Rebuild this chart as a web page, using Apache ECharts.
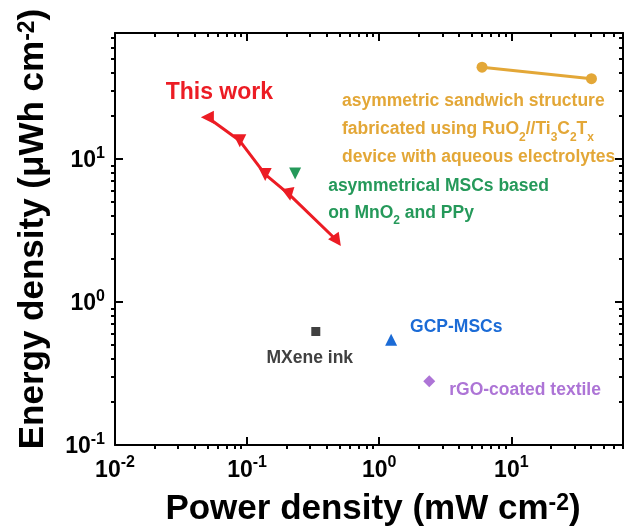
<!DOCTYPE html>
<html><head><meta charset="utf-8">
<script src="https://cdn.jsdelivr.net/npm/echarts@6/dist/echarts.min.js"></script>
<style>html,body{margin:0;padding:0;background:#fff}#c{width:627px;height:528px}</style>
</head><body><div id="c"></div>
<script>
// ---- data ----
const thisWorkX = [0.05, 0.088, 0.137, 0.208, 0.48];
const thisWorkY = [19.6, 13.4, 7.8, 5.65, 2.68];
const rutiX = [6.0, 40.4];
const rutiY = [43.8, 36.4];
const mnoX = [0.231];
const mnoY = [7.9];
const mxeneX = [0.331];
const mxeneY = [0.622];
const gcpX = [1.23];
const gcpY = [0.544];
const rgoX = [2.39];
const rgoY = [0.279];
const xMajor = [0.01, 0.1, 1, 10];
const yMajor = [0.1, 1, 10];
const minorMult = [2, 3, 4, 5, 6, 7, 8, 9];
const xDecades = [0.01, 0.1, 1, 10];
const yDecades = [0.1, 1, 10];
const xMin = 0.01, xMax = 70, yMin = 0.1, yMax = 76;

// ---- styles ----
const FONT = 'Liberation Sans, Arial, Helvetica, sans-serif';
const LBL = 17.5;
const redRot = [90, 180, 180, 190, 215];
const C = { red: '#ec1c24', orange: '#e3a737', green: '#25995a', gray: '#404040', blue: '#1b6bd6', purple: '#ad74d6' };

const xMinor = [], yMinor = [];
xDecades.forEach(d => minorMult.forEach(m => { const v = +(d * m).toPrecision(6); if (v <= xMax) xMinor.push(v); }));
yDecades.forEach(d => minorMult.forEach(m => { const v = +(d * m).toPrecision(6); if (v <= yMax) yMinor.push(v); }));

function pow10Label(v) {
  const e = Math.round(Math.log10(v));
  return '{b|10}{s|' + e + '}';
}
const tickRich = {
  b: { fontSize: 23, fontWeight: 'bold', fontFamily: FONT, color: '#000', verticalAlign: 'bottom', lineHeight: 27 },
  s: { fontSize: 16, fontWeight: 'bold', fontFamily: FONT, color: '#000', verticalAlign: 'top', lineHeight: 16 }
};
const lineBlack = { show: true, lineStyle: { color: '#000', width: 2 } };

function axisSet(pos, majors, minors, min, max, majorInside, minorInside, showLabel) {
  const base = { type: 'log', logBase: 10, min: min, max: max, position: pos, splitLine: { show: false }, minorTick: { show: false } };
  const major = Object.assign({}, base, {
    axisLine: lineBlack,
    axisTick: { show: true, customValues: majors, inside: majorInside, length: 8, lineStyle: { color: '#000', width: 2 } },
    axisLabel: showLabel ? { show: true, customValues: majors, formatter: pow10Label, rich: tickRich, margin: 10 } : { show: false }
  });
  const minor = Object.assign({}, base, {
    axisLine: { show: false },
    axisTick: { show: true, customValues: minors, inside: minorInside, length: 4, lineStyle: { color: '#000', width: 2 } },
    axisLabel: { show: false }
  });
  return [major, minor];
}

const titleRich = { s: { fontSize: 23, fontWeight: 'bold', fontFamily: FONT, color: '#000', verticalAlign: 'top', lineHeight: 23 } };
const xAxes = [].concat(
  axisSet('bottom', xMajor, xMinor, xMin, xMax, true, false, true),
  axisSet('top', xMajor, xMinor, xMin, xMax, true, true, false)
);
xAxes[0].name = 'Power density (mW cm{s|-2})';
xAxes[0].nameLocation = 'middle';
xAxes[0].nameGap = 47;
xAxes[0].nameTextStyle = { fontSize: 35, fontWeight: 'bold', fontFamily: FONT, color: '#000', padding: [0, 0, 0, 8], rich: titleRich };

const yAxes = [].concat(
  axisSet('left', yMajor, yMinor, yMin, yMax, true, false, true),
  axisSet('right', yMajor, yMinor, yMin, yMax, true, true, false)
);
yAxes[0].name = 'Energy density (μWh cm{s|-2})';
yAxes[0].nameLocation = 'middle';
yAxes[0].nameGap = 64;
yAxes[0].nameTextStyle = { fontSize: 35, fontWeight: 'bold', fontFamily: FONT, color: '#000', padding: [0, 0, 0, 20], rich: titleRich };

function pts(xs, ys) { return xs.map((x, i) => [x, ys[i]]); }
const subRich = { sub: { fontSize: 12, fontWeight: 'bold', fontFamily: FONT, color: C.orange, verticalAlign: 'bottom', lineHeight: 19 } };
const subRichG = { sub: { fontSize: 12, fontWeight: 'bold', fontFamily: FONT, color: C.green, verticalAlign: 'bottom', lineHeight: 19 } };

const twData = pts(thisWorkX, thisWorkY).map((p, i) => {
  const d = { value: p, symbolRotate: redRot[i] };
  if (i === 0) d.label = { show: true, formatter: 'This work', position: 'inside', offset: [12, -25],
    fontSize: 23, fontWeight: 'bold', fontFamily: FONT, color: C.red };
  return d;
});
const ruData = pts(rutiX, rutiY).map((p, i) => {
  const d = { value: p };
  if (i === 0) d.label = { show: true, position: 'inside', align: 'left', verticalAlign: 'middle', offset: [-140, 62],
    formatter: 'asymmetric sandwich structure\nfabricated using RuO{sub|2}//Ti{sub|3}C{sub|2}T{sub|x}\ndevice with aqueous electrolytes',
    fontSize: LBL, lineHeight: 28, fontWeight: 'bold', fontFamily: FONT, color: C.orange, rich: subRich };
  return d;
});

const option = {
  animation: false,
  backgroundColor: '#fff',
  grid: { left: 115, right: 4, top: 33, bottom: 83, containLabel: false, outerBoundsMode: 'none' },
  xAxis: xAxes,
  yAxis: yAxes,
  series: [
    { name: 'This work', type: 'line', xAxisIndex: 0, yAxisIndex: 0, data: twData,
      symbol: 'triangle', symbolSize: 13, lineStyle: { color: C.red, width: 3 }, itemStyle: { color: C.red, opacity: 1 }, z: 5 },
    { name: 'RuO2//Ti3C2Tx', type: 'line', xAxisIndex: 0, yAxisIndex: 0, data: ruData,
      symbol: 'circle', symbolSize: 11, lineStyle: { color: C.orange, width: 3 }, itemStyle: { color: C.orange, opacity: 1 } },
    { name: 'MnO2 PPy', type: 'scatter', xAxisIndex: 0, yAxisIndex: 0, data: pts(mnoX, mnoY),
      symbol: 'triangle', symbolRotate: 180, symbolSize: 12, itemStyle: { color: C.green, opacity: 1 },
      label: { show: true, position: 'inside', align: 'left', verticalAlign: 'middle', offset: [33, 26], opacity: 1,
        formatter: 'asymmetrical MSCs based\non MnO{sub|2} and PPy', fontSize: LBL, lineHeight: 27, fontWeight: 'bold', fontFamily: FONT, color: C.green, rich: subRichG } },
    { name: 'MXene ink', type: 'scatter', xAxisIndex: 0, yAxisIndex: 0, data: pts(mxeneX, mxeneY),
      symbol: 'rect', symbolSize: 9, itemStyle: { color: C.gray, opacity: 1 },
      label: { show: true, position: 'inside', align: 'center', verticalAlign: 'middle', offset: [-6, 27], opacity: 1,
        formatter: 'MXene ink', fontSize: LBL, fontWeight: 'bold', fontFamily: FONT, color: C.gray } },
    { name: 'GCP-MSCs', type: 'scatter', xAxisIndex: 0, yAxisIndex: 0, data: pts(gcpX, gcpY),
      symbol: 'triangle', symbolSize: 12, itemStyle: { color: C.blue, opacity: 1 },
      label: { show: true, position: 'inside', align: 'left', verticalAlign: 'middle', offset: [19, -13], opacity: 1,
        formatter: 'GCP-MSCs', fontSize: LBL, fontWeight: 'bold', fontFamily: FONT, color: C.blue } },
    { name: 'rGO-coated textile', type: 'scatter', xAxisIndex: 0, yAxisIndex: 0, data: pts(rgoX, rgoY),
      symbol: 'diamond', symbolSize: 12, itemStyle: { color: C.purple, opacity: 1 },
      label: { show: true, position: 'inside', align: 'left', verticalAlign: 'middle', offset: [20, 9], opacity: 1,
        formatter: 'rGO-coated textile', fontSize: LBL, fontWeight: 'bold', fontFamily: FONT, color: C.purple } }
  ]
};
const chart = echarts.init(document.getElementById('c'), null, { renderer: 'canvas' });
chart.setOption(option);
</script></body></html>
